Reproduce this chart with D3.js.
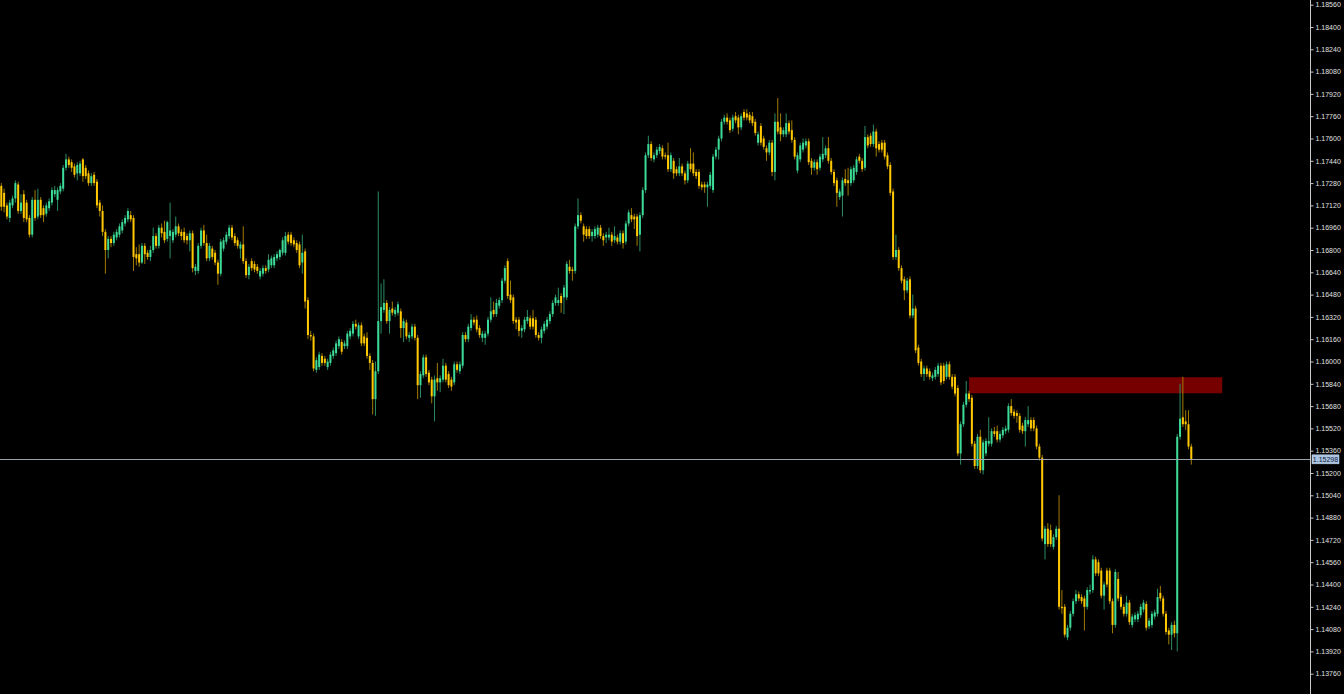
<!DOCTYPE html>
<html><head><meta charset="utf-8">
<script src="https://cdn.jsdelivr.net/npm/d3@7"></script>
<style>html,body{margin:0;padding:0;background:#000;overflow:hidden}</style>
</head><body><svg id="chart" width="1344" height="694"></svg>
<script>
// ---- DATA (EURUSD-style bars, prices) ----
const opens = [
1.1726,1.1721,1.1712,1.1703,1.1712,1.1717,1.1727,1.1708,1.1720,1.1714,
1.1703,1.1691,1.1716,1.1704,1.1716,1.1710,1.1706,1.1710,1.1714,1.1720,
1.1716,1.1722,1.1724,1.1739,1.1745,1.1743,1.1740,1.1735,1.1735,1.1745,
1.1739,1.1735,1.1728,1.1734,1.1729,1.1714,1.1708,1.1693,1.1680,1.1688,
1.1685,1.1689,1.1691,1.1694,1.1699,1.1702,1.1705,1.1703,1.1677,1.1677,
1.1671,1.1683,1.1678,1.1675,1.1680,1.1690,1.1683,1.1696,1.1693,1.1688,
1.1690,1.1687,1.1691,1.1697,1.1693,1.1693,1.1690,1.1687,1.1692,1.1665,
1.1665,1.1683,1.1694,1.1685,1.1674,1.1681,1.1678,1.1671,1.1663,1.1681,
1.1686,1.1690,1.1696,1.1690,1.1687,1.1681,1.1684,1.1672,1.1662,1.1672,
1.1670,1.1668,1.1661,1.1663,1.1667,1.1666,1.1669,1.1669,1.1674,1.1675,
1.1678,1.1678,1.1691,1.1691,1.1687,1.1685,1.1684,1.1671,1.1679,1.1644,
1.1619,1.1618,1.1594,1.1596,1.1604,1.1602,1.1596,1.1599,1.1604,1.1606,
1.1611,1.1614,1.1611,1.1611,1.1618,1.1620,1.1627,1.1618,1.1626,1.1618,
1.1617,1.1604,1.1599,1.1573,1.1593,1.1629,1.1637,1.1642,1.1629,1.1638,
1.1634,1.1635,1.1636,1.1624,1.1628,1.1617,1.1618,1.1625,1.1617,1.1583,
1.1590,1.1603,1.1592,1.1587,1.1575,1.1588,1.1585,1.1587,1.1597,1.1591,
1.1587,1.1585,1.1598,1.1593,1.1597,1.1619,1.1616,1.1624,1.1630,1.1630,
1.1624,1.1617,1.1617,1.1620,1.1630,1.1637,1.1634,1.1640,1.1644,1.1658,
1.1672,1.1648,1.1646,1.1630,1.1630,1.1622,1.1623,1.1629,1.1631,1.1631,
1.1630,1.1619,1.1617,1.1622,1.1625,1.1629,1.1634,1.1642,1.1642,1.1647,
1.1646,1.1646,1.1668,1.1666,1.1665,1.1697,1.1705,1.1697,1.1695,1.1695,
1.1690,1.1690,1.1691,1.1696,1.1690,1.1689,1.1689,1.1691,1.1687,1.1689,
1.1686,1.1692,1.1686,1.1699,1.1705,1.1704,1.1704,1.1691,1.1705,1.1723,
1.1748,1.1756,1.1745,1.1748,1.1751,1.1753,1.1748,1.1748,1.1738,1.1744,
1.1738,1.1735,1.1740,1.1735,1.1730,1.1742,1.1742,1.1736,1.1736,1.1727,
1.1727,1.1725,1.1726,1.1723,1.1747,1.1752,1.1760,1.1772,1.1775,1.1773,
1.1767,1.1776,1.1775,1.1768,1.1779,1.1778,1.1777,1.1776,1.1772,1.1757,
1.1769,1.1760,1.1753,1.1750,1.1757,1.1736,1.1772,1.1768,1.1763,1.1763,
1.1771,1.1766,1.1759,1.1737,1.1745,1.1752,1.1755,1.1758,1.1744,1.1739,
1.1743,1.1739,1.1745,1.1748,1.1753,1.1744,1.1736,1.1730,1.1718,1.1719,
1.1731,1.1730,1.1728,1.1730,1.1736,1.1747,1.1744,1.1739,1.1761,1.1762,
1.1756,1.1765,1.1756,1.1757,1.1757,1.1748,1.1741,1.1722,1.1675,1.1680,
1.1667,1.1659,1.1651,1.1659,1.1633,1.1638,1.1610,1.1600,1.1591,1.1595,
1.1593,1.1588,1.1589,1.1591,1.1597,1.1597,1.1589,1.1598,1.1589,1.1589,
1.1581,1.1534,1.1555,1.1569,1.1577,1.1574,1.1541,1.1525,1.1546,1.1522,
1.1534,1.1541,1.1541,1.1550,1.1550,1.1544,1.1547,1.1550,1.1551,1.1568,
1.1564,1.1563,1.1561,1.1554,1.1550,1.1555,1.1558,1.1558,1.1552,1.1539,
1.1531,1.1469,1.1480,1.1479,1.1467,1.1474,1.1480,1.1424,1.1424,1.1402,
1.1409,1.1419,1.1428,1.1433,1.1431,1.1430,1.1424,1.1435,1.1436,1.1458,
1.1456,1.1450,1.1432,1.1450,1.1450,1.1428,1.1411,1.1444,1.1431,1.1424,
1.1419,1.1427,1.1411,1.1415,1.1415,1.1418,1.1422,1.1426,1.1410,1.1411,
1.1417,1.1419,1.1434,1.1430,1.1419,1.1407,1.1404,1.1411,1.1405,1.1546,
1.1560,1.1557,1.1555,1.1539
];
const highs = [
1.1728,1.1724,1.1714,1.1716,1.1719,1.1730,1.1729,1.1720,1.1723,1.1716,
1.1705,1.1718,1.1723,1.1724,1.1718,1.1712,1.1714,1.1717,1.1725,1.1726,
1.1725,1.1728,1.1741,1.1749,1.1747,1.1745,1.1742,1.1743,1.1744,1.1746,
1.1741,1.1737,1.1735,1.1736,1.1731,1.1716,1.1712,1.1695,1.1690,1.1690,
1.1693,1.1695,1.1699,1.1702,1.1705,1.1710,1.1708,1.1705,1.1682,1.1684,
1.1685,1.1685,1.1680,1.1683,1.1696,1.1692,1.1698,1.1699,1.1701,1.1701,
1.1714,1.1695,1.1704,1.1699,1.1695,1.1696,1.1692,1.1694,1.1694,1.1670,
1.1685,1.1696,1.1698,1.1691,1.1685,1.1683,1.1680,1.1673,1.1688,1.1689,
1.1693,1.1698,1.1698,1.1692,1.1689,1.1686,1.1697,1.1674,1.1670,1.1674,
1.1672,1.1670,1.1667,1.1669,1.1669,1.1677,1.1676,1.1677,1.1679,1.1681,
1.1689,1.1693,1.1693,1.1693,1.1689,1.1687,1.1686,1.1691,1.1681,1.1646,
1.1622,1.1620,1.1603,1.1607,1.1606,1.1604,1.1602,1.1607,1.1610,1.1615,
1.1618,1.1616,1.1615,1.1622,1.1624,1.1629,1.1630,1.1628,1.1628,1.1620,
1.1621,1.1606,1.1601,1.1600,1.1722,1.1656,1.1659,1.1644,1.1639,1.1643,
1.1639,1.1643,1.1638,1.1631,1.1630,1.1621,1.1627,1.1627,1.1619,1.1593,
1.1605,1.1605,1.1594,1.1589,1.1590,1.1599,1.1590,1.1602,1.1599,1.1593,
1.1589,1.1600,1.1600,1.1600,1.1621,1.1621,1.1627,1.1634,1.1632,1.1633,
1.1626,1.1622,1.1622,1.1632,1.1646,1.1643,1.1645,1.1646,1.1660,1.1669,
1.1674,1.1658,1.1648,1.1632,1.1632,1.1626,1.1632,1.1637,1.1633,1.1637,
1.1632,1.1621,1.1625,1.1629,1.1632,1.1636,1.1644,1.1648,1.1653,1.1649,
1.1655,1.1672,1.1673,1.1668,1.1699,1.1717,1.1707,1.1699,1.1697,1.1697,
1.1695,1.1697,1.1698,1.1698,1.1692,1.1693,1.1696,1.1693,1.1697,1.1691,
1.1694,1.1694,1.1701,1.1709,1.1710,1.1706,1.1706,1.1707,1.1725,1.1750,
1.1762,1.1758,1.1750,1.1754,1.1756,1.1755,1.1750,1.1757,1.1750,1.1746,
1.1740,1.1746,1.1742,1.1737,1.1744,1.1753,1.1750,1.1738,1.1738,1.1729,
1.1729,1.1729,1.1736,1.1749,1.1754,1.1762,1.1774,1.1777,1.1778,1.1775,
1.1777,1.1779,1.1777,1.1778,1.1781,1.1781,1.1779,1.1779,1.1774,1.1765,
1.1771,1.1762,1.1755,1.1759,1.1759,1.1778,1.1789,1.1778,1.1768,1.1778,
1.1773,1.1773,1.1761,1.1750,1.1757,1.1760,1.1760,1.1760,1.1746,1.1745,
1.1745,1.1749,1.1761,1.1755,1.1761,1.1746,1.1738,1.1732,1.1724,1.1732,
1.1738,1.1739,1.1740,1.1741,1.1747,1.1749,1.1746,1.1769,1.1763,1.1764,
1.1770,1.1767,1.1758,1.1759,1.1759,1.1750,1.1743,1.1724,1.1691,1.1682,
1.1669,1.1661,1.1660,1.1661,1.1648,1.1640,1.1612,1.1602,1.1597,1.1597,
1.1595,1.1592,1.1596,1.1599,1.1599,1.1599,1.1600,1.1600,1.1591,1.1591,
1.1583,1.1557,1.1571,1.1586,1.1579,1.1576,1.1543,1.1548,1.1551,1.1544,
1.1545,1.1560,1.1552,1.1553,1.1554,1.1550,1.1553,1.1554,1.1570,1.1573,
1.1566,1.1565,1.1563,1.1556,1.1560,1.1568,1.1560,1.1560,1.1554,1.1541,
1.1533,1.1482,1.1484,1.1483,1.1476,1.1482,1.1504,1.1436,1.1426,1.1411,
1.1421,1.1430,1.1436,1.1435,1.1433,1.1432,1.1438,1.1440,1.1461,1.1460,
1.1458,1.1452,1.1442,1.1452,1.1452,1.1430,1.1451,1.1449,1.1433,1.1426,
1.1432,1.1429,1.1419,1.1420,1.1421,1.1426,1.1429,1.1428,1.1416,1.1421,
1.1422,1.1437,1.1439,1.1432,1.1421,1.1409,1.1413,1.1414,1.1548,1.1584,
1.1589,1.1565,1.1565,1.1541
];
const lows = [
1.1708,1.1707,1.1702,1.1700,1.1710,1.1714,1.1706,1.1706,1.1700,1.1700,
1.1689,1.1689,1.1701,1.1702,1.1703,1.1700,1.1704,1.1708,1.1712,1.1718,
1.1708,1.1720,1.1722,1.1737,1.1739,1.1736,1.1732,1.1730,1.1733,1.1729,
1.1731,1.1726,1.1726,1.1726,1.1710,1.1704,1.1690,1.1663,1.1674,1.1682,
1.1683,1.1687,1.1689,1.1692,1.1697,1.1700,1.1700,1.1665,1.1669,1.1668,
1.1670,1.1670,1.1673,1.1672,1.1678,1.1681,1.1681,1.1689,1.1685,1.1686,
1.1674,1.1685,1.1689,1.1690,1.1687,1.1685,1.1684,1.1679,1.1664,1.1662,
1.1663,1.1681,1.1683,1.1672,1.1672,1.1673,1.1669,1.1655,1.1661,1.1679,
1.1684,1.1688,1.1687,1.1683,1.1681,1.1674,1.1670,1.1660,1.1659,1.1665,
1.1664,1.1663,1.1659,1.1661,1.1663,1.1664,1.1667,1.1667,1.1672,1.1673,
1.1676,1.1676,1.1684,1.1683,1.1682,1.1678,1.1667,1.1663,1.1638,1.1616,
1.1615,1.1593,1.1592,1.1594,1.1597,1.1597,1.1594,1.1597,1.1602,1.1604,
1.1609,1.1605,1.1609,1.1609,1.1616,1.1618,1.1623,1.1616,1.1611,1.1611,
1.1602,1.1594,1.1562,1.1561,1.1591,1.1620,1.1635,1.1627,1.1620,1.1633,
1.1632,1.1633,1.1617,1.1614,1.1616,1.1614,1.1616,1.1615,1.1573,1.1574,
1.1588,1.1589,1.1583,1.1570,1.1557,1.1579,1.1578,1.1585,1.1585,1.1581,
1.1579,1.1583,1.1592,1.1591,1.1595,1.1614,1.1614,1.1622,1.1626,1.1621,
1.1617,1.1614,1.1612,1.1618,1.1628,1.1632,1.1632,1.1638,1.1642,1.1656,
1.1645,1.1642,1.1627,1.1623,1.1618,1.1617,1.1621,1.1627,1.1623,1.1623,
1.1617,1.1615,1.1613,1.1620,1.1623,1.1627,1.1632,1.1640,1.1640,1.1635,
1.1634,1.1644,1.1663,1.1658,1.1663,1.1695,1.1699,1.1686,1.1688,1.1688,
1.1686,1.1688,1.1689,1.1688,1.1683,1.1685,1.1687,1.1683,1.1685,1.1684,
1.1684,1.1681,1.1684,1.1697,1.1700,1.1695,1.1683,1.1679,1.1703,1.1721,
1.1746,1.1744,1.1743,1.1746,1.1749,1.1745,1.1745,1.1736,1.1736,1.1731,
1.1733,1.1733,1.1733,1.1727,1.1728,1.1736,1.1733,1.1731,1.1724,1.1723,
1.1721,1.1711,1.1724,1.1721,1.1745,1.1745,1.1758,1.1770,1.1770,1.1764,
1.1765,1.1771,1.1763,1.1766,1.1773,1.1773,1.1771,1.1769,1.1762,1.1755,
1.1755,1.1752,1.1744,1.1748,1.1733,1.1730,1.1763,1.1758,1.1761,1.1761,
1.1763,1.1757,1.1745,1.1735,1.1743,1.1750,1.1753,1.1741,1.1734,1.1737,
1.1734,1.1737,1.1743,1.1746,1.1742,1.1734,1.1726,1.1711,1.1716,1.1704,
1.1726,1.1719,1.1726,1.1728,1.1734,1.1742,1.1736,1.1737,1.1753,1.1754,
1.1754,1.1747,1.1750,1.1750,1.1745,1.1738,1.1719,1.1673,1.1673,1.1665,
1.1656,1.1644,1.1649,1.1631,1.1631,1.1606,1.1597,1.1589,1.1586,1.1589,
1.1587,1.1586,1.1587,1.1589,1.1583,1.1584,1.1587,1.1587,1.1580,1.1575,
1.1532,1.1526,1.1553,1.1567,1.1571,1.1539,1.1523,1.1523,1.1520,1.1519,
1.1532,1.1539,1.1539,1.1546,1.1542,1.1542,1.1545,1.1548,1.1549,1.1561,
1.1559,1.1556,1.1549,1.1548,1.1539,1.1553,1.1550,1.1550,1.1537,1.1529,
1.1471,1.1458,1.1467,1.1467,1.1465,1.1472,1.1422,1.1419,1.1402,1.1400,
1.1407,1.1417,1.1426,1.1428,1.1426,1.1407,1.1422,1.1433,1.1434,1.1446,
1.1446,1.1430,1.1422,1.1438,1.1426,1.1405,1.1409,1.1428,1.1422,1.1417,
1.1417,1.1411,1.1409,1.1413,1.1413,1.1416,1.1420,1.1407,1.1408,1.1409,
1.1415,1.1417,1.1428,1.1417,1.1404,1.1397,1.1393,1.1402,1.1392,1.1544,
1.1553,1.1551,1.1537,1.1526
];
const closes = [
1.1711,1.1711,1.1704,1.1714,1.1717,1.1728,1.1708,1.1714,1.1703,1.1702,
1.1691,1.1716,1.1703,1.1716,1.1705,1.1705,1.1712,1.1715,1.1723,1.1723,
1.1723,1.1726,1.1739,1.1745,1.1741,1.1739,1.1734,1.1741,1.1742,1.1733,
1.1733,1.1728,1.1733,1.1728,1.1712,1.1708,1.1693,1.1680,1.1688,1.1685,
1.1691,1.1693,1.1697,1.1700,1.1703,1.1708,1.1702,1.1675,1.1674,1.1671,
1.1683,1.1677,1.1675,1.1680,1.1690,1.1683,1.1696,1.1692,1.1687,1.1700,
1.1694,1.1693,1.1697,1.1692,1.1690,1.1687,1.1687,1.1692,1.1667,1.1668,
1.1683,1.1694,1.1685,1.1674,1.1683,1.1675,1.1671,1.1663,1.1686,1.1687,
1.1691,1.1696,1.1689,1.1685,1.1683,1.1684,1.1672,1.1662,1.1668,1.1667,
1.1666,1.1665,1.1665,1.1667,1.1665,1.1673,1.1674,1.1675,1.1677,1.1680,
1.1687,1.1690,1.1686,1.1685,1.1684,1.1680,1.1669,1.1678,1.1643,1.1619,
1.1618,1.1595,1.1601,1.1605,1.1599,1.1599,1.1600,1.1605,1.1608,1.1613,
1.1616,1.1607,1.1613,1.1620,1.1622,1.1627,1.1625,1.1626,1.1613,1.1613,
1.1604,1.1599,1.1573,1.1593,1.1629,1.1639,1.1642,1.1629,1.1637,1.1635,
1.1637,1.1641,1.1624,1.1629,1.1618,1.1619,1.1625,1.1617,1.1583,1.1591,
1.1603,1.1591,1.1585,1.1575,1.1587,1.1585,1.1588,1.1597,1.1587,1.1583,
1.1582,1.1598,1.1594,1.1598,1.1619,1.1616,1.1625,1.1630,1.1628,1.1623,
1.1619,1.1620,1.1620,1.1630,1.1636,1.1634,1.1642,1.1644,1.1658,1.1667,
1.1647,1.1644,1.1629,1.1628,1.1622,1.1624,1.1630,1.1632,1.1625,1.1625,
1.1619,1.1617,1.1623,1.1627,1.1630,1.1634,1.1642,1.1646,1.1644,1.1642,
1.1653,1.1670,1.1665,1.1665,1.1697,1.1705,1.1701,1.1691,1.1690,1.1690,
1.1693,1.1695,1.1696,1.1690,1.1687,1.1691,1.1691,1.1686,1.1690,1.1686,
1.1692,1.1685,1.1699,1.1707,1.1702,1.1702,1.1690,1.1705,1.1723,1.1748,
1.1756,1.1746,1.1748,1.1752,1.1754,1.1747,1.1747,1.1738,1.1748,1.1735,
1.1735,1.1740,1.1735,1.1730,1.1742,1.1738,1.1735,1.1733,1.1726,1.1725,
1.1725,1.1727,1.1734,1.1747,1.1752,1.1760,1.1772,1.1775,1.1772,1.1766,
1.1775,1.1773,1.1768,1.1776,1.1775,1.1775,1.1773,1.1771,1.1764,1.1763,
1.1757,1.1754,1.1750,1.1757,1.1736,1.1772,1.1765,1.1763,1.1766,1.1771,
1.1765,1.1759,1.1747,1.1748,1.1755,1.1757,1.1758,1.1743,1.1739,1.1743,
1.1738,1.1747,1.1749,1.1753,1.1744,1.1736,1.1728,1.1721,1.1722,1.1730,
1.1728,1.1728,1.1738,1.1739,1.1745,1.1744,1.1738,1.1761,1.1755,1.1756,
1.1765,1.1753,1.1752,1.1752,1.1747,1.1740,1.1721,1.1675,1.1680,1.1667,
1.1658,1.1651,1.1658,1.1633,1.1638,1.1608,1.1599,1.1591,1.1595,1.1591,
1.1589,1.1590,1.1594,1.1597,1.1585,1.1586,1.1598,1.1589,1.1582,1.1577,
1.1534,1.1555,1.1569,1.1577,1.1573,1.1541,1.1525,1.1546,1.1522,1.1542,
1.1543,1.1543,1.1550,1.1548,1.1544,1.1548,1.1551,1.1552,1.1568,1.1563,
1.1561,1.1561,1.1551,1.1550,1.1558,1.1558,1.1552,1.1552,1.1539,1.1531,
1.1473,1.1480,1.1469,1.1469,1.1474,1.1480,1.1424,1.1423,1.1404,1.1409,
1.1419,1.1428,1.1433,1.1430,1.1428,1.1424,1.1436,1.1436,1.1458,1.1448,
1.1448,1.1432,1.1440,1.1440,1.1428,1.1411,1.1449,1.1430,1.1424,1.1419,
1.1427,1.1413,1.1417,1.1418,1.1419,1.1424,1.1427,1.1409,1.1414,1.1419,
1.1420,1.1431,1.1430,1.1419,1.1406,1.1404,1.1411,1.1405,1.1546,1.1559,
1.1555,1.1555,1.1539,1.1530
];
const priceTicks = [1.13760,1.13920,1.14080,1.14240,1.14400,1.14560,1.14720,1.14880,1.15040,1.15200,
  1.15360,1.15520,1.15680,1.15840,1.16000,1.16160,1.16320,1.16480,1.16640,1.16800,
  1.16960,1.17120,1.17280,1.17440,1.17600,1.17760,1.17920,1.18080,1.18240,1.18400,1.18560];
const lastPrice = 1.15298;
const lastPriceLabel = "1.15298";
const zoneHigh = 1.15887, zoneLow = 1.15772;
const zoneFromBar = 344, zoneToBar = 434;

// ---- DRAWING ----
const W = 1344, H = 694;
const svg = d3.select('#chart');
svg.append('rect').attr('width', W).attr('height', H).attr('fill', '#000');

const n = closes.length;
const x = d3.scaleLinear().domain([0, n - 1]).range([1.3, 1191.3]);
const y = d3.scaleLinear().domain([1.13760, 1.18560]).range([673.7, 4.7]);

// supply/resistance zone
svg.append('rect')
  .attr('x', x(zoneFromBar)).attr('width', x(zoneToBar) - x(zoneFromBar))
  .attr('y', y(zoneHigh)).attr('height', y(zoneLow) - y(zoneHigh))
  .attr('fill', '#760000');

const bars = d3.range(n).map(i => ({i, o: opens[i], h: highs[i], l: lows[i], c: closes[i]}));
const bull = d => d.c >= d.o;
const g = svg.append('g');
g.selectAll('line.wick').data(bars).join('line')
  .attr('class', 'wick')
  .attr('x1', d => x(d.i)).attr('x2', d => x(d.i))
  .attr('y1', d => y(Math.max(d.h, d.o, d.c))).attr('y2', d => y(Math.min(d.l, d.o, d.c)))
  .attr('stroke', d => bull(d) ? '#2a8c62' : '#a07c00')
  .attr('stroke-width', 1);
g.selectAll('rect.body').data(bars).join('rect')
  .attr('class', 'body')
  .attr('x', d => x(d.i) - 1).attr('width', 2)
  .attr('y', d => y(Math.max(d.o, d.c)))
  .attr('height', d => Math.max(1, Math.abs(y(d.o) - y(d.c))))
  .attr('fill', d => bull(d) ? '#3cdc98' : '#ffc800');

// last price line
svg.append('line')
  .attr('x1', 0).attr('x2', 1310).attr('y1', Math.round(y(lastPrice)) + 0.5).attr('y2', Math.round(y(lastPrice)) + 0.5)
  .attr('stroke', '#9aa3ad').attr('stroke-width', 1);

// right price axis
const axisX = 1310.5;
svg.append('line').attr('x1', axisX).attr('x2', axisX).attr('y1', 0).attr('y2', H)
  .attr('stroke', '#c8c8c8').attr('stroke-width', 1);
const axis = d3.axisRight(y).tickValues(priceTicks).tickFormat(d3.format('.5f')).tickSize(3).tickPadding(2);
const ag = svg.append('g').attr('transform', `translate(${axisX},0)`).call(axis);
ag.select('.domain').remove();
ag.selectAll('.tick line').attr('stroke', '#c8c8c8');
ag.selectAll('.tick text').attr('fill', '#e0e0e0')
  .style('font-family', '"Liberation Sans", Arial, sans-serif').style('font-size', '7px');

// last price label
const ly = y(lastPrice);
svg.append('rect').attr('x', 1312).attr('y', ly - 4.5).attr('width', 27).attr('height', 9)
  .attr('fill', '#aac4e2').attr('stroke', '#c8daf0').attr('stroke-width', 0.5);
svg.append('text').attr('x', 1325.5).attr('y', ly + 2.5).attr('text-anchor', 'middle')
  .attr('fill', '#10203a').style('font-family', '"Liberation Sans", Arial, sans-serif').style('font-size', '7px')
  .text(lastPriceLabel);
</script>
</body></html>
